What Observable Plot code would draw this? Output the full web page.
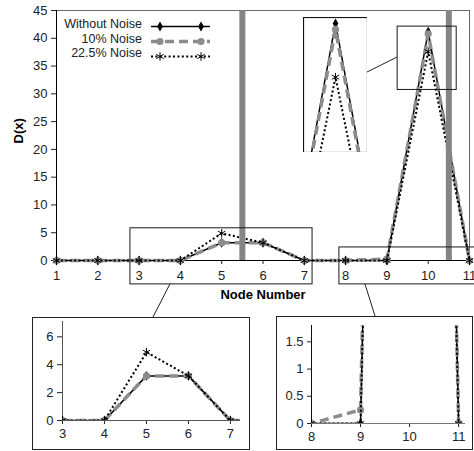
<!DOCTYPE html>
<html><head><meta charset="utf-8">
<script src="https://cdn.jsdelivr.net/npm/d3@7"></script>
<script src="https://cdn.jsdelivr.net/npm/@observablehq/plot@0.6"></script>
<style>
body{margin:0;background:#fff;font-family:"Liberation Sans",Arial,sans-serif;}
#wrap{position:relative;width:474px;height:451px;overflow:hidden;background:#fff;}
#wrap > svg, #wrap > figure, #wrap > div{position:absolute;margin:0;}
.box{border:1px solid #222;background:#fff;box-sizing:border-box;}
</style></head><body><div id="wrap"></div>
<script>
// ---------- data ----------
const nodes = [1, 2, 3, 4, 5, 6, 7, 8, 9, 10, 11];
const withoutNoise = [0, 0, 0, 0, 3.2, 3.2, 0, 0, 0, 41.2, 0];
const noise10 = [0, 0, 0, 0, 3.2, 3.2, 0, 0, 0.25, 40.8, 0];
const noise225 = [0, 0, 0, 0, 4.9, 3.2, 0, 0, 0, 37.6, 0];
const seriesNames = ["Without Noise", "10% Noise", "22.5% Noise"];
const dividers = [5.5, 10.5];
const mainXTicks = [1, 2, 3, 4, 5, 6, 7, 8, 9, 10, 11];
const mainYTicks = [0, 5, 10, 15, 20, 25, 30, 35, 40, 45];
const inset1XTicks = [3, 4, 5, 6, 7];
const inset1YTicks = [0, 2, 4, 6];
const inset2XTicks = [8, 9, 10, 11];
const inset2YTicks = [0, 0.5, 1, 1.5];
const xLabel = "Node Number";
const yLabel = "D(x)";

// ---------- build ----------
const valuesBySeries = [withoutNoise, noise10, noise225];
const table = [];
seriesNames.forEach((s, i) => nodes.forEach((n, j) => table.push({series: s, node: n, value: valuesBySeries[i][j]})));

const styles = {
  "Without Noise": {stroke: "#000", width: 1.5, dash: null, symbol: "diamond", fill: "#000", dstroke: "none", r: 3},
  "10% Noise": {stroke: "#8c8c8c", width: 3.5, dash: "9,5", symbol: "circle", fill: "#8c8c8c", dstroke: "none", r: 3.6},
  "22.5% Noise": {stroke: "#000", width: 2, dash: "2,2.4", symbol: "asterisk", fill: "none", dstroke: "#000", r: 4}
};
const FONT = "'Liberation Sans', Arial, sans-serif";
const fmt = d => String(d);
const wrap = document.getElementById("wrap");

function seriesMarks(clip) {
  const marks = [];
  for (const s of seriesNames) {
    const st = styles[s];
    const rows = table.filter(d => d.series === s);
    marks.push(Plot.line(rows, {x: "node", y: "value", stroke: st.stroke, strokeWidth: st.width,
      strokeDasharray: st.dash, strokeLinecap: "butt", clip}));
    marks.push(Plot.dot(rows, {x: "node", y: "value", symbol: st.symbol, r: st.r, fill: st.fill,
      stroke: st.dstroke, strokeWidth: 1, clip}));
  }
  return marks;
}
function place(el, left, top) {
  el.style.left = left + "px"; el.style.top = top + "px";
  wrap.appendChild(el);
  return el;
}

// main plot
const zoomBoxes = [
  {x1: 2.79, x2: 7.2, y1: -4.3, y2: 5.8},
  {x1: 7.85, x2: 11.3, y1: -4.3, y2: 2.35},
  {x1: 9.26, x2: 10.69, y1: 30.7, y2: 42.1}
];
const main = Plot.plot({
  width: 474, height: 300,
  marginLeft: 56, marginRight: 5, marginTop: 10, marginBottom: 40,
  x: {domain: [1, 11]},
  y: {domain: [0, 45]},
  style: {fontFamily: FONT, fontSize: "13px", color: "#222", background: "transparent", overflow: "visible"},
  marks: [
    Plot.frame({stroke: "#6a6a6a"}),
    Plot.axisX({ticks: mainXTicks, tickSize: 4, tickPadding: 6, label: null, tickFormat: fmt}),
    Plot.axisY({ticks: mainYTicks, tickSize: 5, tickPadding: 4, label: null, tickFormat: fmt}),
    Plot.ruleY([0], {stroke: "#000"}),
    Plot.ruleX([1], {stroke: "#000"}),
    ...seriesMarks(false),
    Plot.ruleX(dividers, {y1: 0, y2: 45, stroke: "#858585", strokeWidth: 6}),
    Plot.rect(zoomBoxes, {x1: "x1", x2: "x2", y1: "y1", y2: "y2", fill: "none", stroke: "#1a1a1a", strokeWidth: 1}),
    Plot.text([xLabel], {frameAnchor: "bottom", dy: 34, lineAnchor: "middle", fontWeight: "bold", fontSize: 13, fill: "#000"}),
    Plot.text([yLabel], {frameAnchor: "left", dx: -38, dy: 8, rotate: -90, lineAnchor: "middle", fontWeight: "bold", fontSize: 13, fill: "#000"})
  ]
});
place(main, 0, 0);

// legend
const legend = d3.create("svg").attr("width", 230).attr("height", 70)
  .style("font-family", FONT).style("font-size", "12.5px");
const symMap = {diamond: d3.symbolDiamond, circle: d3.symbolCircle, asterisk: d3.symbolAsterisk};
seriesNames.forEach((s, i) => {
  const st = styles[s];
  const yT = 25 + 14.6 * i, yL = 26.5 + 15 * i;
  legend.append("text").attr("x", 142).attr("y", yT).attr("text-anchor", "end")
    .attr("dominant-baseline", "middle").attr("fill", "#222").text(s);
  legend.append("line").attr("x1", 151).attr("x2", 210).attr("y1", yL).attr("y2", yL)
    .attr("stroke", st.stroke).attr("stroke-width", st.width).attr("stroke-dasharray", st.dash);
  [160, 201].forEach(x => legend.append("path")
    .attr("d", d3.symbol(symMap[st.symbol], Math.PI * st.r * st.r)())
    .attr("transform", `translate(${x},${yL})`)
    .attr("fill", st.fill).attr("stroke", st.dstroke));
});
place(legend.node(), 0, 0);

// big peak inset
const peak = Plot.plot({
  width: 64, height: 135, margin: 0,
  x: {domain: [9.72, 10.28], axis: null},
  y: {domain: [32.55, 41.6], axis: null},
  style: {background: "#fff"},
  marks: [...seriesMarks(true), Plot.frame({stroke: "#111", strokeWidth: 1.2})]
});
place(peak, 303, 17);

// inset 1
const box1 = document.createElement("div"); box1.className = "box";
box1.style.width = "218px"; box1.style.height = "133px";
place(box1, 32, 317);
const inset1 = Plot.plot({
  width: 218, height: 132,
  marginLeft: 30, marginRight: 10, marginTop: 4, marginBottom: 29,
  x: {domain: [3, 7.24]},
  y: {domain: [0, 7.1]},
  style: {fontFamily: FONT, fontSize: "13px", color: "#222", background: "transparent"},
  marks: [
    Plot.axisX({ticks: inset1XTicks, tickSize: 4, tickPadding: 4, label: null, tickFormat: fmt}),
    Plot.axisY({ticks: inset1YTicks, tickSize: 5, tickPadding: 4, label: null, tickFormat: fmt}),
    Plot.ruleX([3], {y1: 0, y2: 7.1, stroke: "#555"}),
    Plot.ruleY([0], {stroke: "#555"}),
    ...seriesMarks(true)
  ]
});
place(inset1, 32, 317);

// inset 2
const box2 = document.createElement("div"); box2.className = "box";
box2.style.width = "197px"; box2.style.height = "134px";
place(box2, 276, 316);
const inset2 = Plot.plot({
  width: 196, height: 133,
  marginLeft: 35, marginRight: 7, marginTop: 9, marginBottom: 26,
  x: {domain: [8, 11.14]},
  y: {domain: [0, 1.8]},
  style: {fontFamily: FONT, fontSize: "13px", color: "#222", background: "transparent"},
  marks: [
    Plot.axisX({ticks: inset2XTicks, tickSize: 4, tickPadding: 4, label: null, tickFormat: fmt}),
    Plot.axisY({ticks: inset2YTicks, tickSize: 4, tickPadding: 4, label: null, tickFormat: fmt}),
    Plot.ruleY([0], {stroke: "#777"}),
    Plot.ruleX([8], {y1: 0, y2: 1.8, stroke: "#111"}),
    ...seriesMarks(true)
  ]
});
place(inset2, 276, 316);

// connector lines (from zoom boxes to their magnified views)
const mx = main.scale("x"), my = main.scale("y");
const connectors = [
  [[mx.apply(3.76), my.apply(zoomBoxes[0].y1)], [153, 317]],
  [[mx.apply(8.48), my.apply(zoomBoxes[1].y1)], [375, 316]],
  [[303 + 64, 72], [mx.apply(zoomBoxes[2].x1), 57]]
];
const over = d3.create("svg").attr("width", 474).attr("height", 451).style("pointer-events", "none");
connectors.forEach(([a, b]) => over.append("line").attr("x1", a[0]).attr("y1", a[1])
  .attr("x2", b[0]).attr("y2", b[1]).attr("stroke", "#222").attr("stroke-width", 1));
place(over.node(), 0, 0);
</script></body></html>
